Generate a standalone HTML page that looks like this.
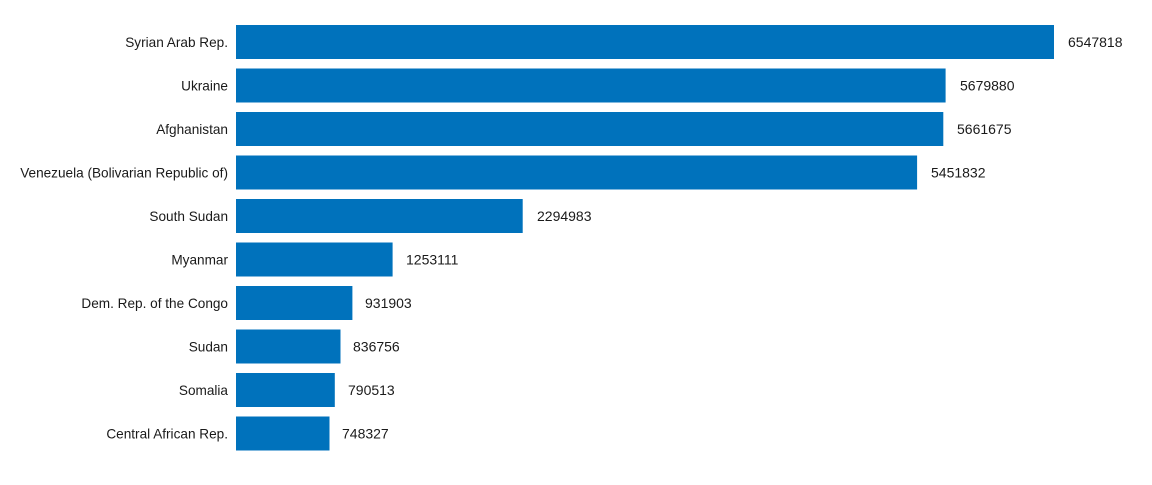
<!DOCTYPE html>
<html><head><meta charset="utf-8"><style>
body{margin:0;background:#fff;width:1152px;height:480px;overflow:hidden}
text{font-family:"Liberation Sans",sans-serif;font-size:14px;fill:#1a1a1a}
.l text{font-size:13.6px}
</style></head><body>
<svg width="1152" height="480" xmlns="http://www.w3.org/2000/svg">
<g fill="#0072bc">
<rect x="236" y="25" width="818" height="34"/>
<rect x="236" y="68.5" width="709.6" height="34"/>
<rect x="236" y="112" width="707.3" height="34"/>
<rect x="236" y="155.5" width="681.1" height="34"/>
<rect x="236" y="199" width="286.7" height="34"/>
<rect x="236" y="242.5" width="156.6" height="34"/>
<rect x="236" y="286" width="116.4" height="34"/>
<rect x="236" y="329.5" width="104.5" height="34"/>
<rect x="236" y="373" width="98.8" height="34"/>
<rect x="236" y="416.5" width="93.5" height="34"/>
</g>
<g text-anchor="end" class="l">
<text x="228" y="47">Syrian Arab Rep.</text>
<text x="228" y="90.5">Ukraine</text>
<text x="228" y="134">Afghanistan</text>
<text x="228" y="177.5">Venezuela (Bolivarian Republic of)</text>
<text x="228" y="221">South Sudan</text>
<text x="228" y="264.5">Myanmar</text>
<text x="228" y="308">Dem. Rep. of the Congo</text>
<text x="228" y="351.5">Sudan</text>
<text x="228" y="395">Somalia</text>
<text x="228" y="438.5">Central African Rep.</text>
</g>
<g>
<text x="1068" y="47">6547818</text>
<text x="960" y="90.5">5679880</text>
<text x="957" y="134">5661675</text>
<text x="931" y="177.5">5451832</text>
<text x="537" y="221">2294983</text>
<text x="406" y="264.5">1253111</text>
<text x="365" y="308">931903</text>
<text x="353" y="351.5">836756</text>
<text x="348" y="395">790513</text>
<text x="342" y="438.5">748327</text>
</g>
</svg>
</body></html>
